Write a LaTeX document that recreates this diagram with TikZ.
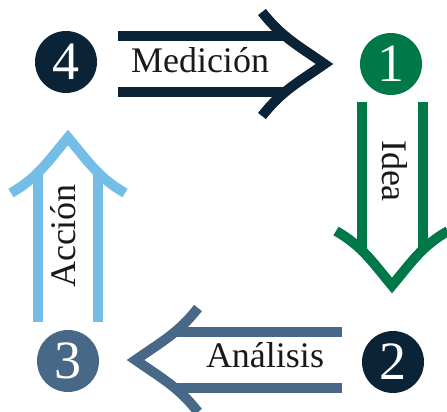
\documentclass[tikz,border=0pt]{standalone}
\usepackage{fontspec}
\setmainfont{Liberation Serif}
\usepackage{xcolor}
\usepackage{tikz}
\usetikzlibrary{positioning}
\definecolor{CycNavy}{RGB}{10,35,55}
\definecolor{CycGreen}{RGB}{0,120,72}
\definecolor{CycSteel}{RGB}{71,104,135}
\definecolor{CycSky}{RGB}{116,189,230}

\begin{document}
\begin{tikzpicture}[x=1pt, y=1pt,
          num/.style={circle, minimum size=62pt, inner sep=0pt, text=white,
                      font=\fontsize{54}{54}\selectfont},
          lbl/.style={inner sep=0pt, anchor=base, text=black!90,
                      font=\fontsize{36}{36}\selectfont},
          shaft/.style={line width=10pt},
          head/.style={line width=10pt, line join=miter}
        ]
        \useasboundingbox (0,0) rectangle (447,412);

        % steps
        \node[num, fill=CycNavy]  (s4) at (66,350)  {4};
        \node[num, fill=CycGreen] (s1) at (391,348) {1};
        \node[num, fill=CycNavy]  (s2) at (393,50)  {2};
        \node[num, fill=CycSteel] (s3) at (68,51)   {3};

        % 4 -> 1
        \draw[shaft, CycNavy] (118,376) -- (285,376);
        \draw[shaft, CycNavy] (118,320) -- (285,320);
        \draw[head, CycNavy] (262,400) to[out=-52, in=145] (324.5,348)
              to[out=-145, in=52] (262,296);
        \node[lbl] (med) at (200,339) {Medición};

        % 1 -> 2
        \draw[shaft, CycGreen] (361.5,310) -- (361.5,162);
        \draw[shaft, CycGreen] (423,310) -- (423,162);
        \draw[head, CycGreen] (336,181) to[out=-30, in=130] (392,126.5)
              to[out=50, in=210] (448,181);
        \node[lbl, rotate=-90] (idea) at (382,241) {Idea};

        % 2 -> 3
        \draw[shaft, CycSteel] (342,80) -- (176,80);
        \draw[shaft, CycSteel] (342,24) -- (176,24);
        \draw[head, CycSteel] (198,104) to[out=-128, in=35] (135.5,52)
              to[out=-35, in=128] (198,0);
        \node[lbl] (ana) at (265,44) {Análisis};

        % 3 -> 4
        \draw[shaft, CycSky] (37.5,90) -- (37.5,240);
        \draw[shaft, CycSky] (98,90) -- (98,240);
        \draw[head, CycSky] (11,219) to[out=30, in=230] (68,274.5)
              to[out=-50, in=150] (125,219);
        \node[lbl, rotate=90] (acc) at (75,176) {Acción};
      \end{tikzpicture}
\end{document}
